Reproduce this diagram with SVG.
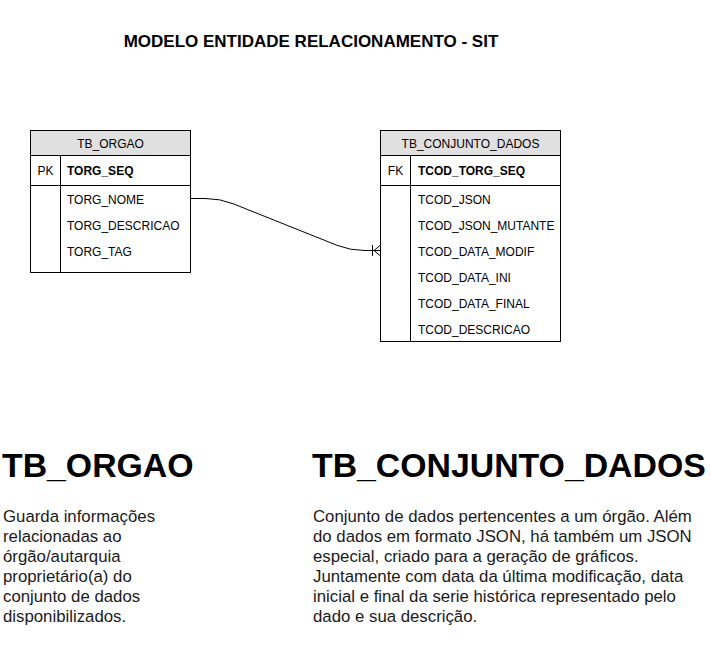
<svg xmlns="http://www.w3.org/2000/svg" width="711" height="649" viewBox="0 0 711 649">
<style>
text{font-family:"Liberation Sans",Arial,Helvetica,sans-serif;fill:#000}
.box{fill:#fff;stroke:#000;stroke-width:1}
.hdr{fill:#e0e0e0;stroke:#000;stroke-width:1}
.ln{stroke:#000;stroke-width:1;fill:none}
.t{font-size:12px}
.tb{font-size:12px;font-weight:bold}
.c{text-anchor:middle}
.title{font-size:17px;font-weight:bold}
.big{font-size:33.8px;font-weight:bold}
.body{font-size:16.8px;fill:#1a1a1a}
</style>
<rect width="711" height="649" fill="#fff"/>
<text id="title" class="title c" x="311" y="47">MODELO ENTIDADE RELACIONAMENTO - SIT</text>

<g id="tb_orgao">
<rect class="box" x="30.5" y="130.5" width="160" height="142"/>
<rect class="hdr" x="30.5" y="130.5" width="160" height="25"/>
<line class="ln" x1="30.5" y1="185.5" x2="190.5" y2="185.5"/>
<line class="ln" x1="60.5" y1="155.5" x2="60.5" y2="272.5"/>
<text class="t c" x="110.5" y="147.5">TB_ORGAO</text>
<text class="t c" x="45.5" y="174.5">PK</text>
<text class="tb" x="67" y="174.5">TORG_SEQ</text>
<text class="t" x="67" y="203.5">TORG_NOME</text>
<text class="t" x="67" y="229.5">TORG_DESCRICAO</text>
<text class="t" x="67" y="255.5">TORG_TAG</text>
</g>

<g id="tb_conjunto_dados">
<rect class="box" x="380.5" y="130.5" width="180" height="211"/>
<rect class="hdr" x="380.5" y="130.5" width="180" height="25"/>
<line class="ln" x1="380.5" y1="185.5" x2="560.5" y2="185.5"/>
<line class="ln" x1="410.5" y1="155.5" x2="410.5" y2="341.5"/>
<text class="t c" x="470.5" y="147.5">TB_CONJUNTO_DADOS</text>
<text class="t c" x="395.5" y="174.5">FK</text>
<text class="tb" x="418" y="174.5">TCOD_TORG_SEQ</text>
<text class="t" x="418" y="203.5">TCOD_JSON</text>
<text class="t" x="418" y="229.5">TCOD_JSON_MUTANTE</text>
<text class="t" x="418" y="255.5">TCOD_DATA_MODIF</text>
<text class="t" x="418" y="281.5">TCOD_DATA_INI</text>
<text class="t" x="418" y="307.5">TCOD_DATA_FINAL</text>
<text class="t" x="418" y="333.5">TCOD_DESCRICAO</text>
</g>

<g id="connectors">
<path class="ln" d="M190.5 198.5 L205 198.5 Q220 198.5 233 203.7 L337 245.3 Q350 250.5 365 250.5 L380.5 250.5"/>
<line class="ln" x1="372.5" y1="245" x2="372.5" y2="256"/>
<path class="ln" d="M380.5 245 L374 250.5 L380.5 256"/>
</g>

<g id="desc_orgao">
<text class="big" x="2" y="477">TB_ORGAO</text>
<text class="body" x="3" y="521.5">Guarda informações</text>
<text class="body" x="3" y="541.5">relacionadas ao</text>
<text class="body" x="3" y="561.5">órgão/autarquia</text>
<text class="body" x="3" y="581.5">proprietário(a) do</text>
<text class="body" x="3" y="601.5">conjunto de dados</text>
<text class="body" x="3" y="621.5">disponibilizados.</text>
</g>

<g id="desc_conjunto">
<text class="big" x="312" y="477">TB_CONJUNTO_DADOS</text>
<text class="body" x="313" y="521.5">Conjunto de dados pertencentes a um órgão. Além</text>
<text class="body" x="313" y="541.5">do dados em formato JSON, há também um JSON</text>
<text class="body" x="313" y="561.5">especial, criado para a geração de gráficos.</text>
<text class="body" x="313" y="581.5">Juntamente com data da última modificação, data</text>
<text class="body" x="313" y="601.5">inicial e final da serie histórica representado pelo</text>
<text class="body" x="313" y="621.5">dado e sua descrição.</text>
</g>
</svg>
